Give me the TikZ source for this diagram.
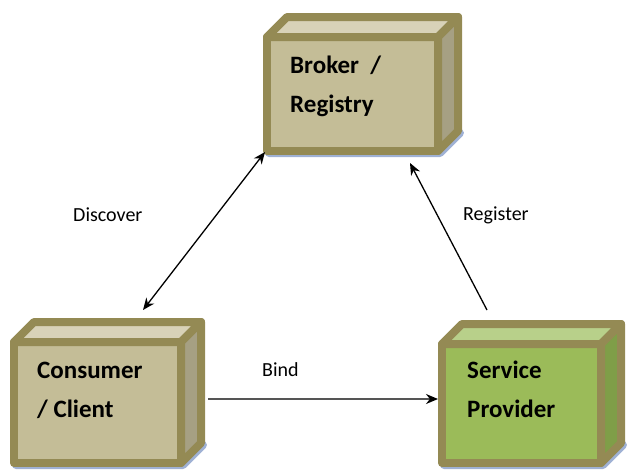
\documentclass[tikz,border=0pt]{standalone}
\usepackage{fontspec}
\setmainfont{Carlito}
\usetikzlibrary{arrows.meta,backgrounds}
\definecolor{boxedge}{HTML}{948A54}
\definecolor{tanfront}{HTML}{C4BD97}
\definecolor{tantop}{HTML}{D8D2B8}
\definecolor{tanside}{HTML}{A6A083}
\definecolor{greenfront}{HTML}{9BBB59}
\definecolor{greentop}{HTML}{B8D08A}
\definecolor{greenside}{HTML}{7F9E48}
\definecolor{shadowblue}{HTML}{9FB1D4}
\definecolor{linegray}{HTML}{555555}
\tikzset{
  cubefront/.style={draw=boxedge, line width=8pt, line join=round, inner sep=0pt, outer sep=0pt},
  cubeface/.style={draw=boxedge, line width=8pt, line join=round},
  cubeshadow/.style={draw=shadowblue, fill=shadowblue, line width=8pt, line join=round},
  boxtext/.style={font=\bfseries\fontsize{25}{39}\selectfont, align=left, inner sep=0pt, anchor=base west},
  linklabel/.style={font=\fontsize{20}{24}\selectfont, inner sep=0pt, anchor=west},
  link/.style={line width=1.3pt}
}
\begin{document}
\begin{tikzpicture}[x=1pt,y=-1pt,>={Stealth[length=12pt,width=10pt]}]
\useasboundingbox (0,0) rectangle (632,469);
% front faces
\node[cubefront, fill=tanfront, minimum width=171pt, minimum height=114pt] (broker) at (352.5,94) {};
\node[cubefront, fill=tanfront, minimum width=167pt, minimum height=121pt] (cons) at (97.5,402.5) {};
\node[cubefront, fill=greenfront, minimum width=159pt, minimum height=119pt] (serv) at (521.5,403.5) {};
%
\foreach \n/\tc/\sc in {broker/tantop/tanside, cons/tantop/tanside, serv/greentop/greenside}{
  \begin{scope}[on background layer]
  \draw[cubeshadow] ([shift={(2,2)}]\n.north west) -- ([shift={(22,-18)}]\n.north west)
    -- ([shift={(22,-18)}]\n.south east) -- ([shift={(2,2)}]\n.south east)
    -- ([shift={(2,2)}]\n.south west) -- cycle;
  \end{scope}
  \draw[cubeface, fill=\tc] (\n.north west) -- ([shift={(20,-20)}]\n.north west)
    -- ([shift={(20,-20)}]\n.north east) -- (\n.north east) -- cycle;
  \draw[cubeface, fill=\sc] (\n.north east) -- ([shift={(20,-20)}]\n.north east)
    -- ([shift={(20,-20)}]\n.south east) -- (\n.south east) -- cycle;
}
% texts (base = last line)
\node[boxtext] (brokertxt) at ([shift={(23,75)}]broker.north west) {Broker\ \ /\\Registry};
\node[boxtext] (constxt) at ([shift={(23,75)}]cons.north west) {Consumer\\/ Client};
\node[boxtext] (servtxt) at ([shift={(25,73)}]serv.north west) {Service\\Provider};
%
\node[linklabel] (disc) at (73,215) {Discover};
\node[linklabel] (reg) at (463,215) {Register};
\node[linklabel] (bind) at (262,370) {Bind};
% connectors
\draw[link,<->] ([shift={(45.5,-32)}]cons.north) -- ([shift={(-2,1)}]broker.south west);
\draw[link,->] ([shift={(-34.5,-34)}]serv.north) -- ([shift={(57.5,12)}]broker.south);
\draw[link,draw=linegray,-{Stealth[length=12pt,width=10pt,color=black]}] ([shift={(27,-3.5)}]cons.east) -- ([shift={(-4,-4.5)}]serv.west);
\end{tikzpicture}
\end{document}
